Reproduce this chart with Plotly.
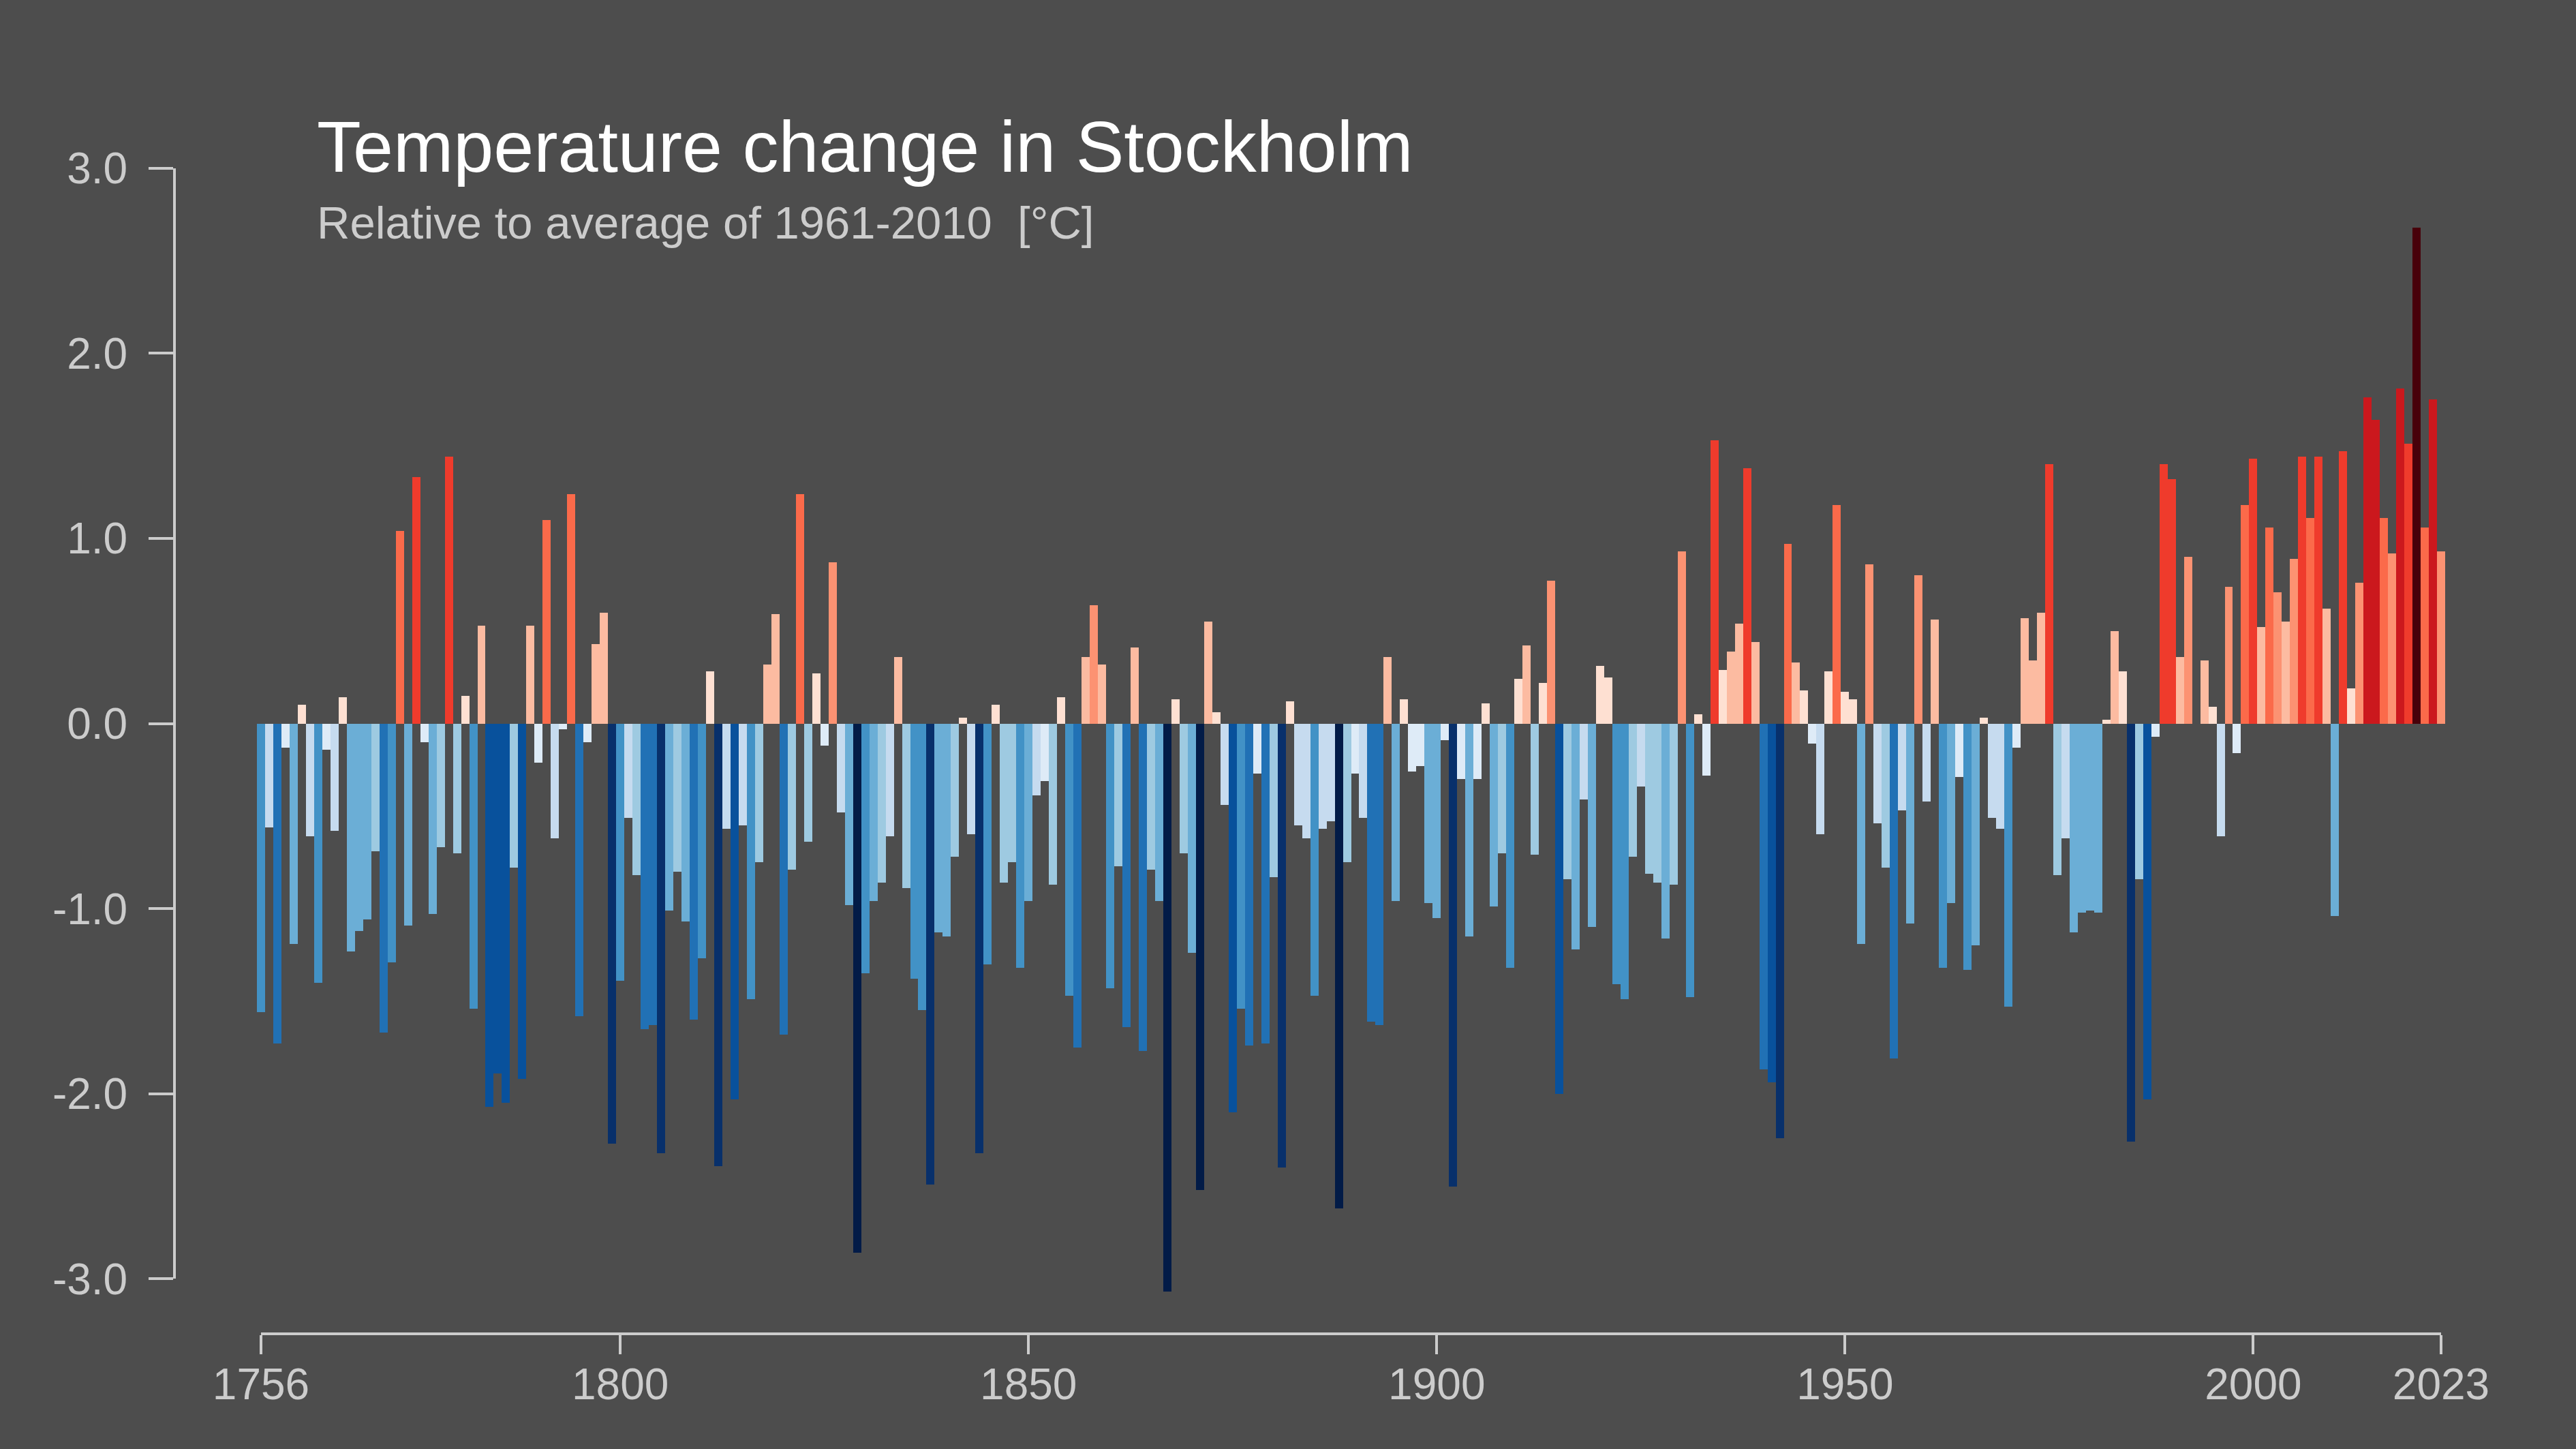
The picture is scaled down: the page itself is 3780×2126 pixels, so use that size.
import plotly.graph_objects as go

# ---------------- data ----------------
start_year = 1756
end_year = 2023
anomaly = [
    # 1756-1765
    -1.56, -0.56, -1.73, -0.13, -1.19, 0.10, -0.61, -1.40, -0.14, -0.58,
    # 1766-1775
    0.14, -1.23, -1.12, -1.06, -0.69, -1.67, -1.29, 1.04, -1.09, 1.33,
    # 1776-1785
    -0.10, -1.03, -0.67, 1.44, -0.70, 0.15, -1.54, 0.53, -2.07, -1.89,
    # 1786-1795
    -2.05, -0.78, -1.92, 0.53, -0.21, 1.10, -0.62, -0.03, 1.24, -1.58,
    # 1796-1805
    -0.10, 0.43, 0.60, -2.27, -1.39, -0.51, -0.82, -1.65, -1.63, -2.32,
    # 1806-1815
    -1.01, -0.80, -1.07, -1.60, -1.27, 0.28, -2.39, -0.57, -2.03, -0.55,
    # 1816-1825
    -1.49, -0.75, 0.32, 0.59, -1.68, -0.79, 1.24, -0.64, 0.27, -0.12,
    # 1826-1835
    0.87, -0.48, -0.98, -2.86, -1.35, -0.96, -0.86, -0.61, 0.36, -0.89,
    # 1836-1845
    -1.38, -1.55, -2.49, -1.13, -1.15, -0.72, 0.03, -0.60, -2.32, -1.30,
    # 1846-1855
    0.10, -0.86, -0.75, -1.32, -0.96, -0.39, -0.31, -0.87, 0.14, -1.47,
    # 1856-1865
    -1.75, 0.36, 0.64, 0.32, -1.43, -0.77, -1.64, 0.41, -1.77, -0.79,
    # 1866-1875
    -0.96, -3.07, 0.13, -0.70, -1.24, -2.52, 0.55, 0.06, -0.44, -2.10,
    # 1876-1885
    -1.54, -1.74, -0.27, -1.73, -0.83, -2.40, 0.12, -0.55, -0.62, -1.47,
    # 1886-1895
    -0.57, -0.53, -2.62, -0.75, -0.27, -0.51, -1.61, -1.63, 0.36, -0.96,
    # 1896-1905
    0.13, -0.26, -0.23, -0.97, -1.05, -0.09, -2.50, -0.30, -1.15, -0.30,
    # 1906-1915
    0.11, -0.99, -0.70, -1.32, 0.24, 0.42, -0.71, 0.22, 0.77, -2.00,
    # 1916-1925
    -0.84, -1.22, -0.41, -1.10, 0.31, 0.25, -1.41, -1.49, -0.72, -0.34,
    # 1926-1935
    -0.81, -0.86, -1.16, -0.87, 0.93, -1.48, 0.05, -0.28, 1.53, 0.29,
    # 1936-1945
    0.39, 0.54, 1.38, 0.44, -1.87, -1.94, -2.24, 0.97, 0.33, 0.18,
    # 1946-1955
    -0.11, -0.60, 0.28, 1.18, 0.17, 0.13, -1.19, 0.86, -0.54, -0.78,
    # 1956-1965
    -1.81, -0.47, -1.08, 0.80, -0.42, 0.56, -1.32, -0.97, -0.29, -1.33,
    # 1966-1975
    -1.20, 0.03, -0.51, -0.57, -1.53, -0.13, 0.57, 0.34, 0.60, 1.40,
    # 1976-1985
    -0.82, -0.62, -1.13, -1.02, -1.01, -1.02, 0.02, 0.50, 0.28, -2.26,
    # 1986-1995
    -0.84, -2.03, -0.07, 1.40, 1.32, 0.36, 0.90, 0.00, 0.34, 0.09,
    # 1996-2005
    -0.61, 0.74, -0.16, 1.18, 1.43, 0.52, 1.06, 0.71, 0.55, 0.89,
    # 2006-2015
    1.44, 1.11, 1.44, 0.62, -1.04, 1.47, 0.19, 0.76, 1.76, 1.64,
    # 2016-2023
    1.11, 0.92, 1.81, 1.51, 2.68, 1.06, 1.75, 0.93,
]
years = list(range(start_year, start_year + len(anomaly)))

x_tick_vals = [1756, 1800, 1850, 1900, 1950, 2000, 2023]
y_tick_vals = [-3, -2, -1, 0, 1, 2, 3]
y_tick_text = ["-3.0", "-2.0", "-1.0", "0.0", "1.0", "2.0", "3.0"]

title_text = "Temperature change in Stockholm"
subtitle_text = "Relative to average of 1961-2010  [°C]"

# ---------------- styling ----------------
blues = ["#deebf7", "#c6dbef", "#9ecae1", "#6baed6", "#4292c6",
         "#2171b5", "#08519c", "#08306b", "#021b47"]
reds = ["#fee0d2", "#fcbba1", "#fc9272", "#fb6a4a", "#ef3b2c",
        "#cb181d", "#a50f15", "#67000d", "#48000a"]
bin_w = 0.3133


def colour(v):
    k = min(int(abs(v) / bin_w), 8)
    return reds[k] if v >= 0 else blues[k]


bar_colours = [colour(v) for v in anomaly]

W, H = 3780, 2126
BG = "#4d4d4d"
FG = "#cccccc"
FONT = "Liberation Sans, Arial, Helvetica, sans-serif"

# pixel geometry of the reference
X_1756, X_2023 = 383.0, 3582.0
PPY = (X_2023 - X_1756) / (2023 - 1756)
Y_ZERO, PPD = 1061.5, 271.6
X_SPINE_Y = 1955.0   # pixel row of the x spine
Y_SPINE_X = 258.0    # pixel column of the y spine

x_lo = 1756 - X_1756 / PPY
x_hi = 1756 + (W - X_1756) / PPY
y_lo = -(H - Y_ZERO) / PPD
y_hi = Y_ZERO / PPD

fig = go.Figure()
fig.add_trace(go.Bar(
    x=years, y=anomaly, marker=dict(color=bar_colours, line=dict(width=0)),
    width=1.0, showlegend=False, hoverinfo="x+y",
))
# invisible helpers so the spine subplots exist
fig.add_trace(go.Scatter(x=[2000], y=[0.5], xaxis="x2", yaxis="y2", mode="markers",
                         marker=dict(opacity=0), hoverinfo="skip", showlegend=False))
fig.add_trace(go.Scatter(x=[0.5], y=[0], xaxis="x3", yaxis="y3", mode="markers",
                         marker=dict(opacity=0), hoverinfo="skip", showlegend=False))

tick_font = dict(family=FONT, size=64, color=FG)
spine_w = 4

fig.update_layout(
    width=W, height=H, autosize=False,
    margin=dict(l=0, r=0, t=0, b=0, pad=0, autoexpand=False),
    paper_bgcolor=BG, plot_bgcolor="rgba(0,0,0,0)",
    bargap=0, showlegend=False,
    xaxis=dict(domain=[0, 1], range=[x_lo, x_hi], visible=False, fixedrange=True,
               automargin=False),
    yaxis=dict(domain=[0, 1], range=[y_lo, y_hi], visible=False, fixedrange=True,
               automargin=False),
    xaxis2=dict(
        domain=[X_1756 / W, X_2023 / W], range=[1756, 2023], anchor="y2",
        tickvals=x_tick_vals, ticktext=[str(v) for v in x_tick_vals],
        showline=True, linecolor=FG, linewidth=spine_w,
        ticks="outside", ticklen=28, tickwidth=spine_w, tickcolor=FG,
        tickfont=tick_font, ticklabelstandoff=-11, automargin=False,
        showgrid=False, zeroline=False, fixedrange=True,
    ),
    yaxis2=dict(domain=[1 - X_SPINE_Y / H, 1 - (X_SPINE_Y - 40) / H], range=[0, 1],
                anchor="x2", visible=False, fixedrange=True, automargin=False),
    yaxis3=dict(
        domain=[1 - (Y_ZERO + 3 * PPD) / H, 1 - (Y_ZERO - 3 * PPD) / H],
        range=[-3, 3], anchor="x3",
        tickvals=y_tick_vals, ticktext=y_tick_text,
        showline=True, linecolor=FG, linewidth=spine_w,
        ticks="outside", ticklen=36, tickwidth=spine_w, tickcolor=FG,
        tickfont=tick_font, ticklabelstandoff=18, automargin=False,
        showgrid=False, zeroline=False, fixedrange=True,
    ),
    xaxis3=dict(domain=[Y_SPINE_X / W, (Y_SPINE_X + 40) / W], range=[0, 1],
                anchor="y3", visible=False, fixedrange=True, automargin=False),
    annotations=[
        dict(text=title_text, x=463 / W, y=1 - 215 / H, xref="paper", yref="paper",
             xanchor="left", yanchor="middle", showarrow=False,
             font=dict(family=FONT, size=106, color="#ffffff")),
        dict(text=subtitle_text, x=463 / W, y=1 - 326 / H, xref="paper", yref="paper",
             xanchor="left", yanchor="middle", showarrow=False,
             font=dict(family=FONT, size=67, color=FG)),
    ],
)

fig.write_html("out.html", config={"displayModeBar": False},
               post_script="document.body.style.margin='0';"
               "document.body.style.background='" + BG + "';")
